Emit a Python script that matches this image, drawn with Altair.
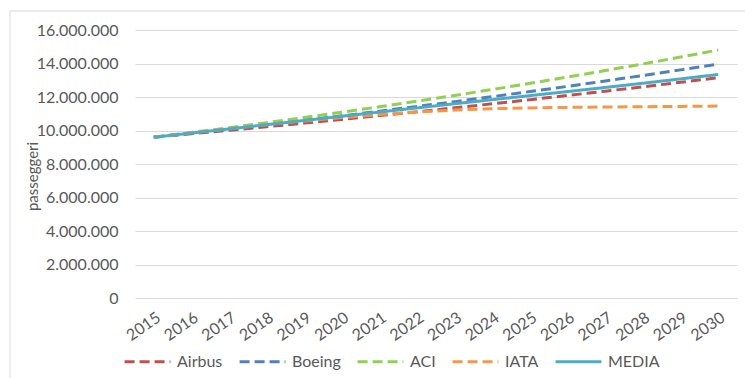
import altair as alt
import pandas as pd

# Passenger forecasts 2015-2030 by source, plus their mean (MEDIA)
anni = list(range(2015, 2031))
airbus = [9600000, 9804000, 10011000, 10224000, 10440000, 10662000, 10888000, 11119000,
          11354000, 11595000, 11841000, 12092000, 12348000, 12610000, 12877000, 13150000]
boeing = [9600000, 9843000, 10092000, 10347000, 10609000, 10877000, 11152000, 11435000,
          11724000, 12020000, 12324000, 12636000, 12956000, 13284000, 13620000, 13964000]
aci = [9600000, 9881000, 10171000, 10469000, 10776000, 11092000, 11417000, 11751000,
       12095000, 12450000, 12815000, 13190000, 13577000, 13975000, 14384000, 14806000]
iata = [9600000, 9860000, 10110000, 10350000, 10570000, 10770000, 10950000, 11100000,
        11220000, 11300000, 11350000, 11380000, 11400000, 11420000, 11440000, 11460000]
media = [9600000, 9847000, 10096000, 10348000, 10599000, 10850000, 11102000, 11351000,
         11598000, 11841000, 12083000, 12325000, 12570000, 12822000, 13080000, 13345000]

serie = ["Airbus", "Boeing", "ACI", "IATA", "MEDIA"]
colori = ["#C0504D", "#4F81BD", "#92D050", "#F79646", "#4BACC6"]
tratti = [[10, 5], [10, 5], [10, 5], [10, 5], [1, 0]]
y_ticks = [0, 2000000, 4000000, 6000000, 8000000, 10000000, 12000000, 14000000, 16000000]

valori = {"Airbus": airbus, "Boeing": boeing, "ACI": aci, "IATA": iata, "MEDIA": media}
rows = []
for s in serie:
    for a, v in zip(anni, valori[s]):
        rows.append({"anno": str(a), "serie": s, "passeggeri": v})
df = pd.DataFrame(rows)

FONT = "Lato"
GREY = "#595959"

lines = alt.Chart(df).mark_line(strokeWidth=3).encode(
    x=alt.X("anno:O", title=None, scale=alt.Scale(padding=0.5),
            axis=alt.Axis(labelAngle=-35, labelAlign="right", labelBaseline="top",
                          labelPadding=11, ticks=False, domain=False, grid=False,
                          labelFont=FONT, labelFontSize=16, labelColor=GREY)),
    y=alt.Y("passeggeri:Q", title="passeggeri",
            scale=alt.Scale(domain=[0, 16000000], nice=False),
            axis=alt.Axis(values=y_ticks, ticks=False, domain=False,
                          gridColor="#D9D9D9", gridWidth=1,
                          labelExpr="replace(format(datum.value, ',d'), regexp(',', 'g'), '.')",
                          labelFont=FONT, labelFontSize=16, labelColor=GREY, labelPadding=17,
                          titleFont=FONT, titleFontSize=15, titleColor=GREY,
                          titleFontWeight="normal", titleAngle=-90, titleBaseline="middle",
                          titleAlign="center", titleX=-103, titleY=146)),
    color=alt.Color("serie:N", sort=serie, title=None,
                    scale=alt.Scale(domain=serie, range=colori),
                    legend=alt.Legend(orient="none", legendX=-12, legendY=307,
                                      direction="horizontal", symbolType="stroke",
                                      symbolSize=2100, symbolStrokeWidth=3,
                                      labelFont=FONT, labelFontSize=16, labelColor=GREY,
                                      labelOffset=5, columnPadding=10)),
    strokeDash=alt.StrokeDash("serie:N", sort=serie, title=None,
                              scale=alt.Scale(domain=serie, range=tratti)),
    order=alt.Order("ordine:Q"),
).transform_calculate(
    ordine="indexof(['Airbus','Boeing','ACI','IATA','MEDIA'], datum.serie)"
)

# light frame around the whole chart
cornice = alt.Chart(pd.DataFrame({"k": [0]})).mark_rect(
    fill=None, stroke="#D9D9D9", strokeWidth=1
).encode(x=alt.value(-125), x2=alt.value(640), y=alt.value(-19), y2=alt.value(380))

chart = alt.layer(cornice, lines).properties(
    width=602, height=268,
    padding={"left": 135, "top": 30, "right": 8, "bottom": 80},
    autosize=alt.AutoSizeParams(type="none"),
    background="white",
).configure_view(stroke=None)

chart.save("out.html", embed_options={"renderer": "svg", "actions": False})
